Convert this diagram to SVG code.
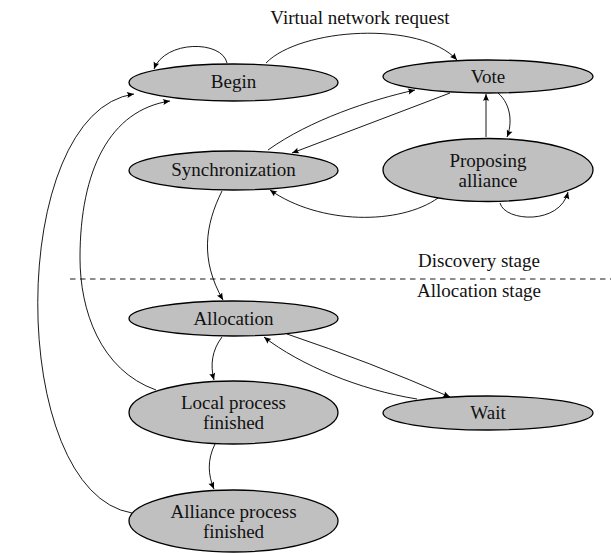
<svg xmlns="http://www.w3.org/2000/svg" width="611" height="553" viewBox="0 0 611 553">
<style>
.node ellipse{fill:#c0c0c0;stroke:#000;stroke-width:1.3}
.lbl{font-size:19px;fill:#111;text-anchor:middle}
.edges path{fill:none;stroke:#000;stroke-width:0.9}
.arr{marker-end:url(#ah)}
</style>
<defs>
<marker id="ah" markerUnits="userSpaceOnUse" markerWidth="10" markerHeight="10" viewBox="-8 -5 10 10" refX="0" refY="0" orient="auto">
<path d="M0,0 L-7,-3 Q-5,0 -7,3 Z" fill="#000"/>
</marker>
</defs>
<rect width="611" height="553" fill="#fff"/>
<g class="edges">
<path class="arr" d="M266,63 C300,28 420,20 457,60"/>
<path class="arr" d="M227,63 C222,40 165,40 154,69"/>
<path class="arr" d="M132,513 C6,492 6,112 134,94"/>
<path class="arr" d="M156,390 C100,370 80,310 80,258 C80,170 110,110 170,101"/>
<path class="arr" d="M222,191 C205,225 200,260 223,300"/>
<path class="arr" d="M222,337 C212,350 210,365 214,380"/>
<path class="arr" d="M215,444 C207,460 208,475 214,489"/>
<path class="arr" d="M287,334 Q370,362 450,397"/>
<path class="arr" d="M417,399 C360,390 300,365 264,337"/>
<path class="arr" d="M486,137 L486,94"/>
<path class="arr" d="M498,93 C512,105 512,125 507,137"/>
<path class="arr" d="M500,203 C505,222 560,225 568,192"/>
<path class="arr" d="M268,150 C310,120 370,100 415,90"/>
<path class="arr" d="M450,93 L292,153"/>
<path class="arr" d="M438,198 C400,225 320,225 270,190"/>
<path d="M70,279 H611" stroke-dasharray="5.5,4.5"/>
</g>
<g font-family="Liberation Serif, DejaVu Serif, serif">
<text class="lbl" x="360" y="24">Virtual network request</text>
<text class="lbl" x="479" y="267">Discovery stage</text>
<text class="lbl" x="479" y="297">Allocation stage</text>
<g class="node" id="begin"><ellipse cx="233.5" cy="82.5" rx="104.5" ry="18.5"/><text class="lbl" x="233.5" y="88">Begin</text></g>
<g class="node" id="vote"><ellipse cx="488" cy="76.5" rx="105" ry="16.5"/><text class="lbl" x="488" y="83">Vote</text></g>
<g class="node" id="sync"><ellipse cx="233.5" cy="170.5" rx="104.5" ry="19.5"/><text class="lbl" x="233.5" y="176">Synchronization</text></g>
<g class="node" id="proposing"><ellipse cx="488" cy="170" rx="105" ry="31.5"/><text class="lbl" x="488" y="167">Proposing</text><text class="lbl" x="488" y="187">alliance</text></g>
<g class="node" id="allocation"><ellipse cx="233.5" cy="318.5" rx="104.5" ry="17.5"/><text class="lbl" x="233.5" y="325">Allocation</text></g>
<g class="node" id="wait"><ellipse cx="488" cy="413" rx="105" ry="17"/><text class="lbl" x="488" y="419">Wait</text></g>
<g class="node" id="local"><ellipse cx="233.5" cy="412.5" rx="104.5" ry="31.5"/><text class="lbl" x="233.5" y="409">Local process</text><text class="lbl" x="233.5" y="429">finished</text></g>
<g class="node" id="alliance"><ellipse cx="233.5" cy="521" rx="104.5" ry="31"/><text class="lbl" x="233.5" y="518">Alliance process</text><text class="lbl" x="233.5" y="538">finished</text></g>
</g>
</svg>
